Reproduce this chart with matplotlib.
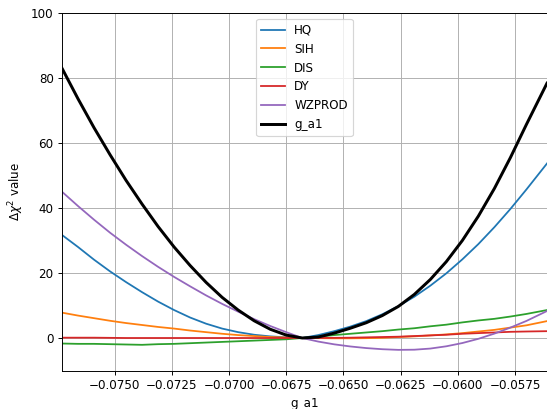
import matplotlib
matplotlib.use("Agg")
import matplotlib.pyplot as plt
from matplotlib.ticker import MultipleLocator

g_a1 = [-0.0773, -0.0766, -0.0759, -0.0752, -0.0745, -0.0738, -0.0731, -0.0724,
        -0.0717, -0.0710, -0.0703, -0.0696, -0.0689, -0.0682, -0.0675, -0.0668,
        -0.0661, -0.0654, -0.0647, -0.0640, -0.0633, -0.0626, -0.0619, -0.0612,
        -0.0605, -0.0598, -0.0591, -0.0584, -0.0577, -0.0570, -0.0561]

hq = [31.7, 28.0, 24.1, 20.5, 17.2, 14.1, 11.2, 8.6, 6.3, 4.4, 2.9, 1.8, 1.0,
      0.5, 0.2, 0.0, 0.9, 2.1, 3.5, 5.2, 7.3, 9.8, 12.7, 16.1, 19.9, 24.2, 28.9,
      34.1, 39.7, 45.7, 53.7]
sih = [7.8, 6.9, 6.1, 5.3, 4.6, 4.0, 3.4, 2.9, 2.3, 1.8, 1.3, 0.9, 0.6, 0.3,
       0.15, 0.0, -0.05, -0.1, -0.1, -0.05, 0.05, 0.3, 0.5, 0.8, 1.1, 1.5, 2.0,
       2.5, 3.2, 3.9, 5.2]
dis = [-1.7, -1.8, -1.8, -1.9, -2.0, -2.1, -1.9, -1.8, -1.6, -1.4, -1.2, -1.0,
       -0.8, -0.6, -0.4, 0.0, 0.4, 0.9, 1.3, 1.7, 2.1, 2.6, 3.0, 3.6, 4.1, 4.8,
       5.4, 5.9, 6.6, 7.4, 8.6]
dy = [0.1, 0.1, 0.1, 0.05, 0.0, 0.0, 0.0, 0.0, 0.0, 0.0, 0.0, 0.0, 0.0, 0.0,
      0.0, 0.0, 0.0, 0.05, 0.1, 0.2, 0.3, 0.4, 0.6, 0.8, 1.0, 1.3, 1.5, 1.7, 1.9,
      2.0, 2.1]
wzprod = [45.0, 40.6, 36.4, 32.4, 28.7, 25.2, 21.9, 18.8, 15.9, 13.1, 10.5, 8.1,
          5.8, 3.7, 1.8, 0.0, -1.1, -1.95, -2.6, -3.1, -3.45, -3.65, -3.6,
          -3.25, -2.55, -1.55, -0.25, 1.35, 3.2, 5.25, 8.3]
total = [83.0, 73.6, 64.7, 56.4, 48.5, 41.2, 34.3, 28.0, 22.3, 17.1, 12.5, 8.6,
         5.3, 2.7, 0.9, 0.0, 0.3, 1.5, 3.0, 4.7, 6.9, 9.7, 13.4, 18.0, 23.5,
         30.0, 37.5, 46.0, 55.5, 65.7, 78.4]

fig = plt.figure(figsize=(547 / 85.5, 409 / 85.5), dpi=85.5)
ax = fig.add_axes([62 / 547, 38.5 / 409, 485 / 547, 357.5 / 409])

ax.plot(g_a1, hq, label="HQ")
ax.plot(g_a1, sih, label="SIH")
ax.plot(g_a1, dis, label="DIS")
ax.plot(g_a1, dy, label="DY")
ax.plot(g_a1, wzprod, label="WZPROD")
ax.plot(g_a1, total, color="black", linewidth=2.5, label="g_a1")

ax.set_xlim(-0.0773, -0.0561)
ax.set_ylim(-10, 100)
ax.xaxis.set_major_locator(MultipleLocator(0.0025))
ax.set_yticks([0, 20, 40, 60, 80, 100])
ax.grid(True)
ax.set_xlabel("g_a1")
ax.set_ylabel(r"$\Delta\chi^2$ value")
ax.legend(loc="upper center")

fig.savefig("out.png", dpi=85.5)
